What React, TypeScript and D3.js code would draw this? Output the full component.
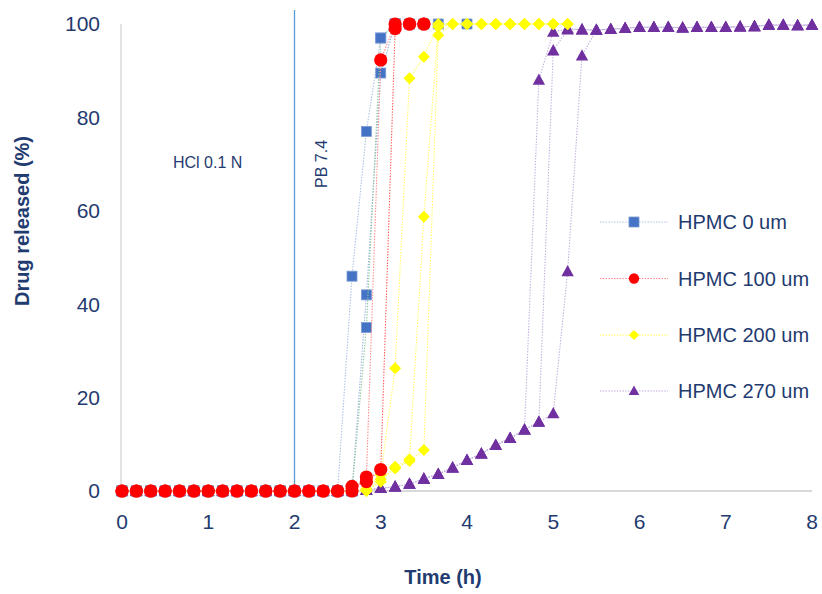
import React from "react";
import * as d3 from "d3";

const WIDTH = 822;
const HEIGHT = 594;

// Axis ticks
const X_TICKS = [0, 1, 2, 3, 4, 5, 6, 7, 8];
const Y_TICKS = [0, 20, 40, 60, 80, 100];

// Formulations shown in the legend
const GROUP_NAMES = ["HPMC 0 um", "HPMC 100 um", "HPMC 200 um", "HPMC 270 um"];
const GROUP_MARKERS = ["square", "circle", "diamond", "triangle"];
const GROUP_FILLS = ["#4472C4", "#FF0000", "#FFFF00", "#7030A0"];
const GROUP_MARKER_STROKES = ["#7C9BD6", "#FF0000", "#FFFF00", "#7030A0"];
const GROUP_LEGEND_LINES = ["#A9BFE6", "#FF8080", "#FFFF40", "#BFA6DA"];

// Sampling times (minutes) and % released, one array pair per replicate
const hpmc0aTime = [0, 10, 20, 30, 40, 50, 60, 70, 80, 90, 100, 110, 120, 130, 140, 150, 160, 170, 180, 190, 200, 210, 220, 240];
const hpmc0aValue = [0, 0, 0, 0, 0, 0, 0, 0, 0, 0, 0, 0, 0, 0, 0, 0, 46, 77, 97, 100, 100, 100, 100, 100];
const hpmc0bTime = [0, 10, 20, 30, 40, 50, 60, 70, 80, 90, 100, 110, 120, 130, 140, 150, 160, 170, 180, 190];
const hpmc0bValue = [0, 0, 0, 0, 0, 0, 0, 0, 0, 0, 0, 0, 0, 0, 0, 0, 0, 42, 89.5, 100];
const hpmc0cTime = [0, 10, 20, 30, 40, 50, 60, 70, 80, 90, 100, 110, 120, 130, 140, 150, 160, 170, 180, 190];
const hpmc0cValue = [0, 0, 0, 0, 0, 0, 0, 0, 0, 0, 0, 0, 0, 0, 0, 0, 0, 35, 97, 100];

const hpmc100aTime = [0, 10, 20, 30, 40, 50, 60, 70, 80, 90, 100, 110, 120, 130, 140, 150, 160, 170, 180, 190, 200, 210];
const hpmc100aValue = [0, 0, 0, 0, 0, 0, 0, 0, 0, 0, 0, 0, 0, 0, 0, 0, 0, 3, 92.3, 100, 100, 100];
const hpmc100bTime = [0, 10, 20, 30, 40, 50, 60, 70, 80, 90, 100, 110, 120, 130, 140, 150, 160, 170, 180, 190, 200, 210];
const hpmc100bValue = [0, 0, 0, 0, 0, 0, 0, 0, 0, 0, 0, 0, 0, 0, 0, 0, 1, 2, 4.6, 99, 100, 100];

const hpmc200aTime = [0, 10, 20, 30, 40, 50, 60, 70, 80, 90, 100, 110, 120, 130, 140, 150, 160, 170, 180, 190, 200, 210, 220, 230, 240, 250, 260, 270, 280, 290, 300, 310];
const hpmc200aValue = [0, 0, 0, 0, 0, 0, 0, 0, 0, 0, 0, 0, 0, 0, 0, 0, 0, 0.5, 3.4, 26.3, 88.4, 93, 100, 100, 100, 100, 100, 100, 100, 100, 100, 100];
const hpmc200bTime = [0, 10, 20, 30, 40, 50, 60, 70, 80, 90, 100, 110, 120, 130, 140, 150, 160, 170, 180, 190, 200, 210, 220, 230, 240, 250, 260, 270, 280, 290, 300, 310];
const hpmc200bValue = [0, 0, 0, 0, 0, 0, 0, 0, 0, 0, 0, 0, 0, 0, 0, 0, 0, 0, 2, 5.2, 6.8, 58.7, 99.4, 100, 100, 100, 100, 100, 100, 100, 100, 100];
const hpmc200cTime = [0, 10, 20, 30, 40, 50, 60, 70, 80, 90, 100, 110, 120, 130, 140, 150, 160, 170, 180, 190, 200, 210, 220, 230, 240, 250, 260, 270, 280, 290, 300, 310];
const hpmc200cValue = [0, 0, 0, 0, 0, 0, 0, 0, 0, 0, 0, 0, 0, 0, 0, 0, 0, 0, 2.5, 4.8, 6.4, 8.8, 97.6, 100, 100, 100, 100, 100, 100, 100, 100, 100];

const hpmc270aTime = [0, 10, 20, 30, 40, 50, 60, 70, 80, 90, 100, 110, 120, 130, 140, 150, 160, 170, 180, 190, 200, 210, 220, 230, 240, 250, 260, 270, 280, 290, 300, 310, 320, 330, 340, 350, 360, 370, 380, 390, 400, 410, 420, 430, 440, 450, 460, 470, 480];
const hpmc270aValue = [0, 0, 0, 0, 0, 0, 0, 0, 0, 0, 0, 0, 0, 0, 0, 0, 0, 0.2, 0.6, 0.9, 1.5, 2.6, 3.6, 5, 6.6, 8, 9.8, 11.3, 13.1, 88, 98.3, 99, 98.8, 98.7, 98.9, 99.1, 99.3, 99.3, 99.3, 99.2, 99.3, 99.3, 99.3, 99.4, 99.5, 99.8, 99.8, 99.7, 99.8];
const hpmc270bTime = [0, 10, 20, 30, 40, 50, 60, 70, 80, 90, 100, 110, 120, 130, 140, 150, 160, 170, 180, 190, 200, 210, 220, 230, 240, 250, 260, 270, 280, 290, 300, 310, 320, 330, 340, 350, 360, 370, 380, 390, 400, 410, 420, 430, 440, 450, 460, 470, 480];
const hpmc270bValue = [0, 0, 0, 0, 0, 0, 0, 0, 0, 0, 0, 0, 0, 0, 0, 0, 0, 0.2, 0.6, 0.9, 1.5, 2.6, 3.6, 5, 6.6, 8, 9.8, 11.3, 13.1, 14.8, 94.3, 98.8, 98.8, 98.7, 98.9, 99.1, 99.3, 99.3, 99.3, 99.2, 99.3, 99.3, 99.3, 99.4, 99.5, 99.8, 99.8, 99.7, 99.8];
const hpmc270cTime = [0, 10, 20, 30, 40, 50, 60, 70, 80, 90, 100, 110, 120, 130, 140, 150, 160, 170, 180, 190, 200, 210, 220, 230, 240, 250, 260, 270, 280, 290, 300, 310, 320, 330, 340, 350, 360, 370, 380, 390, 400, 410, 420, 430, 440, 450, 460, 470, 480];
const hpmc270cValue = [0, 0, 0, 0, 0, 0, 0, 0, 0, 0, 0, 0, 0, 0, 0, 0, 0, 0.2, 0.6, 0.9, 1.5, 2.6, 3.6, 5, 6.6, 8, 9.8, 11.3, 13.1, 14.8, 16.6, 47, 93.2, 98.7, 98.9, 99.1, 99.3, 99.3, 99.3, 99.2, 99.3, 99.3, 99.3, 99.4, 99.5, 99.8, 99.8, 99.7, 99.8];

type Replicate = { group: number; line: string; time: number[]; value: number[] };

// Drawn back to front
const REPLICATES: Replicate[] = [
  { group: 3, line: "#C3B0DE", time: hpmc270aTime, value: hpmc270aValue },
  { group: 3, line: "#C3B0DE", time: hpmc270bTime, value: hpmc270bValue },
  { group: 3, line: "#C3B0DE", time: hpmc270cTime, value: hpmc270cValue },
  { group: 0, line: "#A9BFE6", time: hpmc0aTime, value: hpmc0aValue },
  { group: 0, line: "#9CB6E2", time: hpmc0bTime, value: hpmc0bValue },
  { group: 0, line: "#8CC79E", time: hpmc0cTime, value: hpmc0cValue },
  { group: 2, line: "#FFFF60", time: hpmc200aTime, value: hpmc200aValue },
  { group: 2, line: "#FFFF60", time: hpmc200bTime, value: hpmc200bValue },
  { group: 2, line: "#FFFF60", time: hpmc200cTime, value: hpmc200cValue },
  { group: 1, line: "#FF8A8A", time: hpmc100aTime, value: hpmc100aValue },
  { group: 1, line: "#FF5C5C", time: hpmc100bTime, value: hpmc100bValue },
];

const TEXT = "#1F3B6F";
const FONT = "'Liberation Sans', Arial, sans-serif";

const x = d3.scaleLinear().domain([0, 8]).range([122, 812]);
const y = d3.scaleLinear().domain([0, 100]).range([491, 24]);

function Marker({
  kind,
  cx,
  cy,
  fill,
  stroke,
  s = 1,
}: {
  kind: string;
  cx: number;
  cy: number;
  fill: string;
  stroke: string;
  s?: number;
}) {
  if (kind === "square") {
    const h = 5 * s;
    return <rect x={cx - h} y={cy - h} width={2 * h} height={2 * h} fill={fill} stroke={stroke} strokeWidth={0.8} />;
  }
  if (kind === "circle") {
    return <circle cx={cx} cy={cy} r={6.6 * s} fill={fill} />;
  }
  if (kind === "diamond") {
    const h = 6 * s;
    return <path d={`M${cx},${cy - h}L${cx + h},${cy}L${cx},${cy + h}L${cx - h},${cy}Z`} fill={fill} />;
  }
  return (
    <path
      d={`M${cx},${cy - 6.5 * s}L${cx + 6.2 * s},${cy + 4.8 * s}L${cx - 6.2 * s},${cy + 4.8 * s}Z`}
      fill={fill}
    />
  );
}

export default function App() {
  const line = d3
    .line<[number, number]>()
    .x((d) => x(d[0]))
    .y((d) => y(d[1]));

  const legendRows = [222, 278.5, 335, 391];
  const legendScale = [1, 0.78, 0.85, 0.85];

  return (
    <svg
      width={WIDTH}
      height={HEIGHT}
      style={{ position: "absolute", left: 0, top: 0, background: "#fff" }}
      fontFamily={FONT}
    >
      <rect width={WIDTH} height={HEIGHT} fill="#fff" />

      {/* axis lines */}
      <line x1={x(0) - 1} x2={x(0) - 1} y1={y(100)} y2={y(0)} stroke="#D9D9D9" strokeWidth={1.5} />
      <line x1={x(0) - 1} x2={x(8)} y1={y(0)} y2={y(0)} stroke="#D9D9D9" strokeWidth={2} />

      {/* medium change */}
      <line x1={x(2)} x2={x(2)} y1={10} y2={y(0)} stroke="#5B9BD5" strokeWidth={1.3} />
      <text x={173} y={168} fontSize={16} fill={TEXT}>HCl 0.1 N</text>
      <text transform={`translate(327,188) rotate(-90)`} fontSize={16} fill={TEXT}>PB 7.4</text>

      {/* tick labels */}
      {Y_TICKS.map((v) => (
        <text key={v} x={100} y={y(v)} dy="0.35em" textAnchor="end" fontSize={21} fill={TEXT}>
          {v}
        </text>
      ))}
      {X_TICKS.map((t) => (
        <text key={t} x={x(t)} y={522} dy="0.35em" textAnchor="middle" fontSize={21} fill={TEXT}>
          {t}
        </text>
      ))}

      {/* axis titles */}
      <text transform="translate(29,221) rotate(-90)" textAnchor="middle" fontSize={20} fontWeight="bold" fill={TEXT}>
        Drug released (%)
      </text>
      <text x={443} y={584} textAnchor="middle" fontSize={20} fontWeight="bold" fill={TEXT}>
        Time (h)
      </text>

      {/* release profiles */}
      {REPLICATES.map((r, i) => {
        const pts: [number, number][] = r.time.map((m, k) => [m / 60, r.value[k]]);
        const g = r.group;
        return (
          <g key={i}>
            <path d={line(pts) || ""} fill="none" stroke={r.line} strokeWidth={1.1} strokeDasharray="1.4 1.4" />
            {pts.map((p, k) => (
              <Marker
                key={k}
                kind={GROUP_MARKERS[g]}
                cx={x(p[0])}
                cy={y(p[1])}
                fill={GROUP_FILLS[g]}
                stroke={GROUP_MARKER_STROKES[g]}
              />
            ))}
          </g>
        );
      })}

      {/* legend */}
      {GROUP_NAMES.map((name, g) => (
        <g key={name}>
          <line x1={600} x2={668} y1={legendRows[g]} y2={legendRows[g]} stroke={GROUP_LEGEND_LINES[g]} strokeWidth={1.1} strokeDasharray="1.4 1.4" />
          <Marker
            kind={GROUP_MARKERS[g]}
            cx={634}
            cy={legendRows[g]}
            fill={GROUP_FILLS[g]}
            stroke={GROUP_MARKER_STROKES[g]}
            s={legendScale[g]}
          />
          <text x={678} y={legendRows[g]} dy="0.35em" fontSize={20} fill={TEXT}>
            {name}
          </text>
        </g>
      ))}
    </svg>
  );
}
